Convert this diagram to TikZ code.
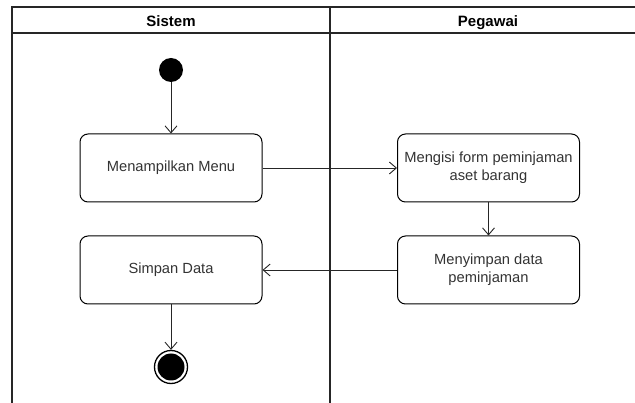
\documentclass[tikz,border=0pt]{standalone}
\usepackage{fontspec}
\setmainfont{Liberation Sans}
\usetikzlibrary{arrows.meta}

\begin{document}
\begin{tikzpicture}[x=1pt,y=-1pt,font=\fontsize{14.7}{17.6}\selectfont,
  lane line/.style={line width=1.3pt,black!85},
  lane title/.style={anchor=base,font=\fontsize{15}{18}\selectfont\bfseries},
  act/.style={draw,line width=1pt,rounded corners=8pt,minimum width=182pt,minimum height=68pt,align=center,text=black!80},
  flow/.style={line width=0.9pt,black!85,-{Straight Barb[length=7pt,width=12pt]}}]

\useasboundingbox (0,0) rectangle (635,403);
\clip (0,0) rectangle (635,403);

% swimlanes
\draw[lane line] (12,403) -- (12,7) -- (646,7) -- (646,403);
\draw[lane line] (12,33) -- (646,33);
\draw[lane line] (330,7) -- (330,403);
\node[lane title] (sistem) at (171,27) {Sistem};
\node[lane title] (pegawai) at (488,27) {Pegawai};

% activities
\node[circle,fill=black,minimum size=24pt,inner sep=0pt] (start) at (171,70) {};
\node[act] (menu) at (171,168) {Menampilkan Menu};
\node[act] (isi) at (488.5,168) {Mengisi form peminjaman\\aset barang};
\node[act] (simpan) at (488.5,270) {Menyimpan data\\peminjaman};
\node[act] (data) at (171,270) {Simpan Data};
\node[circle,draw,line width=1.3pt,fill=white,minimum size=33pt,inner sep=0pt] (end) at (171,367) {};
\fill (end.center) circle (13.5pt);

\draw[flow] (start) -- (menu);
\draw[flow] (menu) -- (isi);
\draw[flow] (isi) -- (simpan);
\draw[flow] (simpan) -- (data);
\draw[flow] (data) -- (end);

\end{tikzpicture}
\end{document}
